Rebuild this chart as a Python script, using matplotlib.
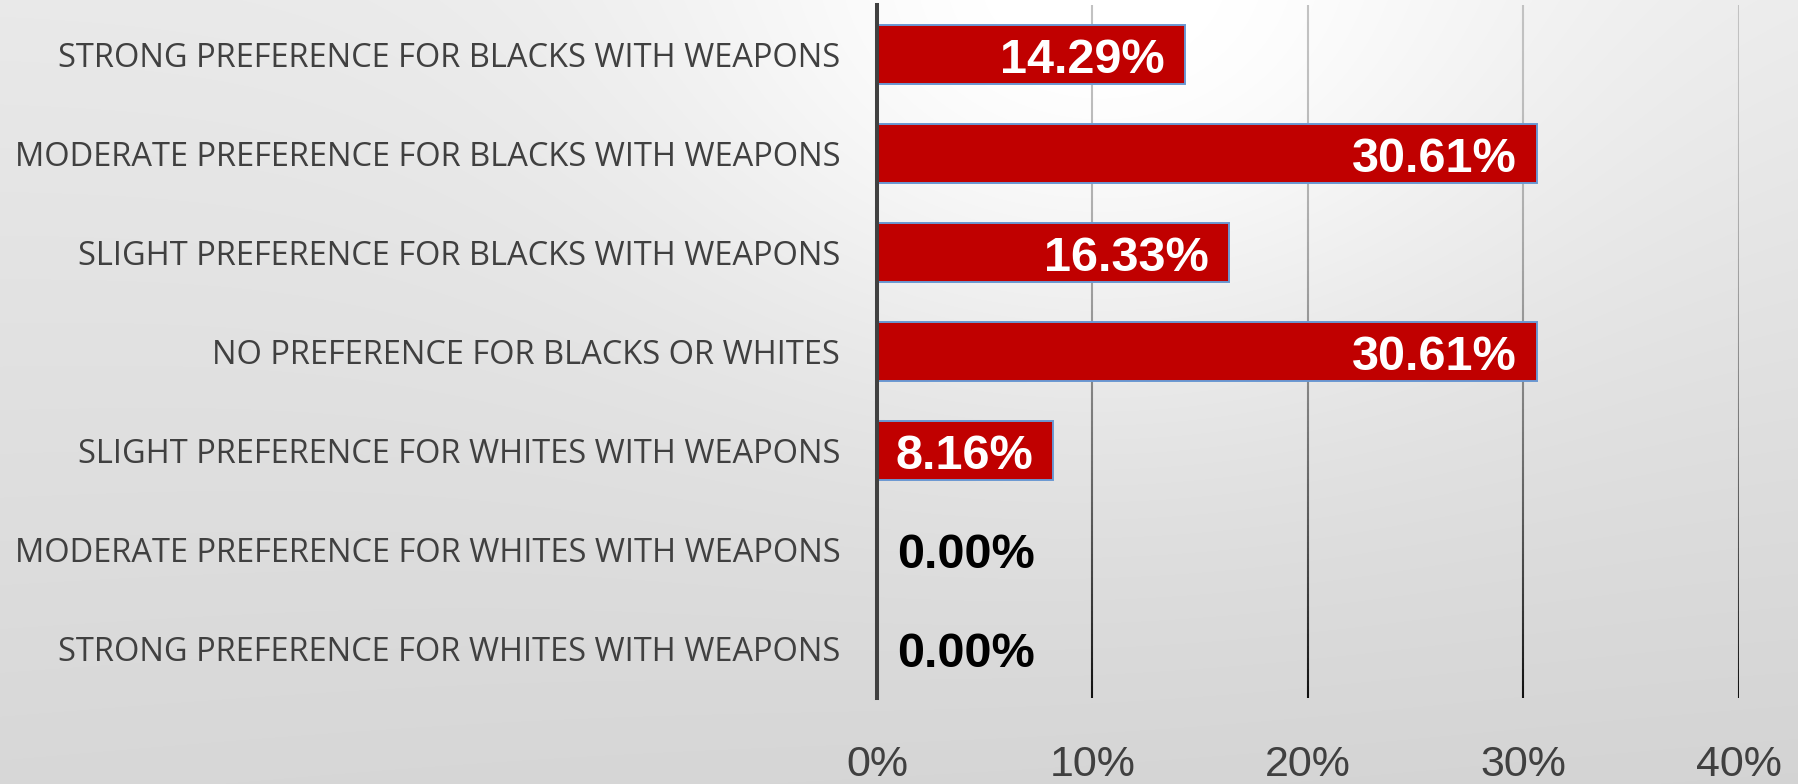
import numpy as np
import matplotlib
matplotlib.use("Agg")
import matplotlib.pyplot as plt
from matplotlib.collections import LineCollection

# ---- data ----
categories = [
    "STRONG PREFERENCE FOR BLACKS WITH WEAPONS",
    "MODERATE PREFERENCE FOR BLACKS WITH WEAPONS",
    "SLIGHT PREFERENCE FOR BLACKS WITH WEAPONS",
    "NO PREFERENCE FOR BLACKS OR WHITES",
    "SLIGHT PREFERENCE FOR WHITES WITH WEAPONS",
    "MODERATE PREFERENCE FOR WHITES WITH WEAPONS",
    "STRONG PREFERENCE FOR WHITES WITH WEAPONS",
]
values = [0.1429, 0.3061, 0.1633, 0.3061, 0.0816, 0.0, 0.0]
x_ticks = [0.0, 0.1, 0.2, 0.3, 0.4]
x_tick_labels = ["0%", "10%", "20%", "30%", "40%"]

W, H, DPI = 1799, 784, 100
fig = plt.figure(figsize=(W / DPI, H / DPI), dpi=DPI)

# ---- background gradient ----
bg_ax = fig.add_axes([0, 0, 1, 1], zorder=-10)
yy, xx = np.mgrid[0:H, 0:W].astype(float)
u = xx / (W - 1)
v = yy / (H - 1)
TL, TR, BL, BR = 0.915, 0.92, 0.845, 0.83
base = TL * (1 - u) * (1 - v) + TR * u * (1 - v) + BL * (1 - u) * v + BR * u * v
bump = 0.09 * np.exp(-((xx - 1100) / 440) ** 2 - ((yy - 50) / 350) ** 2)
g = np.clip(base + bump, 0, 1)
img = np.dstack([g, g, g])
bg_ax.imshow(img, aspect="auto", interpolation="bilinear", extent=[0, 1, 0, 1], origin="upper")
bg_ax.set_axis_off()

# ---- main axes ----
left_px, right_px, top_px, bottom_px = 877, 1739, 5, 698
ax = fig.add_axes([left_px / W, 1 - bottom_px / H,
                   (right_px - left_px) / W, (bottom_px - top_px) / H])
ax.set_facecolor("none")

n = len(categories)
ypos = np.arange(n)
ax.set_xlim(x_ticks[0], x_ticks[-1])
ax.set_ylim(n - 0.5, -0.5)

# gradient gridlines (light at top, dark at bottom)
nseg = 120
edges = np.linspace(-0.5, n - 0.5, nseg + 1)
segs, cols = [], []
for xt in x_ticks[1:]:
    for k in range(nseg):
        segs.append([(xt, edges[k]), (xt, edges[k + 1])])
        t = (k + 0.5) / nseg
        gv = 0.76 - 0.70 * t ** 1.8
        cols.append((gv, gv, gv))
lc = LineCollection(segs, colors=cols, linewidths=1.5, zorder=1, capstyle="butt")
ax.add_collection(lc)

ax.barh(ypos, values, height=0.6, color="#C00000", edgecolor="#6A98D2",
        linewidth=1.4, zorder=2)

# data labels
for yi, val in zip(ypos, values):
    txt = f"{val * 100:.2f}%"
    if val > 0:
        ax.annotate(txt, xy=(val, yi), xytext=(-20, -6), textcoords="offset pixels",
                    ha="right", va="center", color="white", fontsize=35,
                    fontweight="bold", family="Liberation Sans", zorder=3)
    else:
        ax.annotate(txt, xy=(0, yi), xytext=(20, -6), textcoords="offset pixels",
                    ha="left", va="center", color="black", fontsize=35,
                    fontweight="bold", family="Liberation Sans", zorder=3)

for s in ["top", "right", "bottom"]:
    ax.spines[s].set_visible(False)
ax.spines["left"].set_color("#404040")
ax.spines["left"].set_linewidth(2.9)
ax.spines["left"].set_zorder(4)

ax.set_xticks(x_ticks)
ax.set_xticklabels(x_tick_labels, fontsize=31, color="#404040", family="Liberation Sans")
ax.tick_params(axis="x", length=0, pad=34)

ax.set_yticks(ypos)
ax.set_yticklabels(categories, fontsize=23.5, color="#404040", family="Open Sans")
ax.tick_params(axis="y", length=0, pad=26.5)

# fit category label width to reference (~826 px for widest)
fig.canvas.draw()
r = fig.canvas.get_renderer()
wmax = max(t.get_window_extent(r).width for t in ax.get_yticklabels())
scale = 826.0 / wmax
for t in ax.get_yticklabels():
    t.set_fontsize(23.5 * scale)

fig.savefig("out.png", dpi=DPI)
